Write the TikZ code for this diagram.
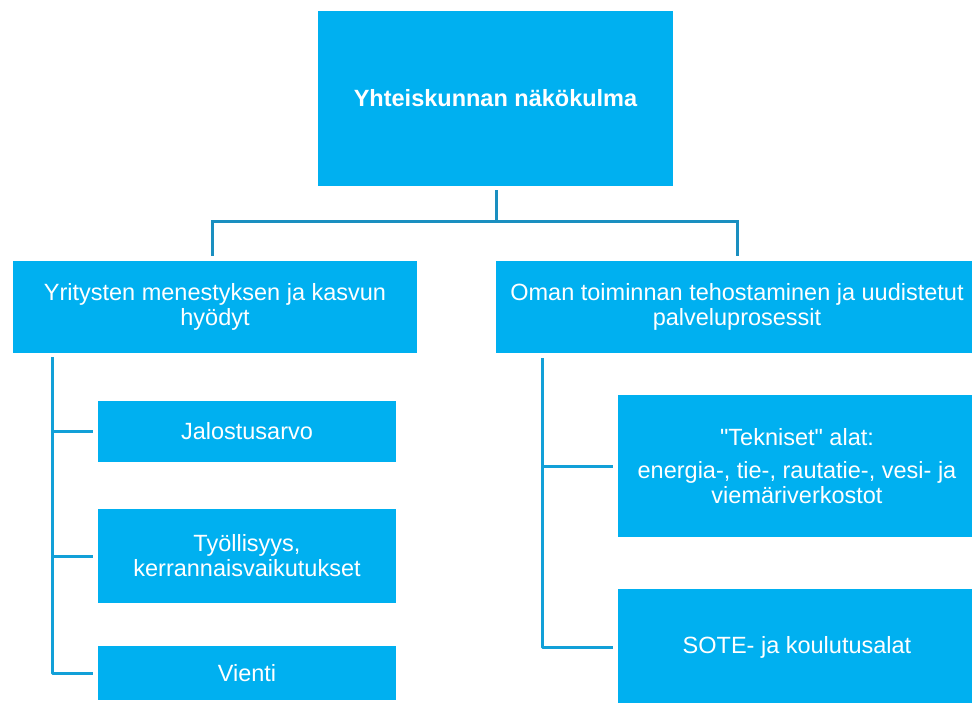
\documentclass[tikz,border=0pt]{standalone}
\usepackage{fontspec}
\setmainfont{Liberation Sans}
\definecolor{boxfill}{HTML}{00B0F0}
\definecolor{topline}{HTML}{1A8FC0}
\definecolor{trunkline}{HTML}{12A0D8}
\begin{document}
\begin{tikzpicture}[x=1pt,y=-1pt,
  box/.style={rectangle, fill=boxfill, draw=none, text=white, inner sep=0pt, align=center,
    font=\fontsize{23.5}{25}\selectfont},
  topconn/.style={draw=topline, line width=3pt},
  trunkconn/.style={draw=trunkline, line width=3pt, line join=round}]
\clip (0,0) rectangle (972,702);
\fill[white] (0,0) rectangle (972,702);
% boxes
\node[box, minimum width=355pt, minimum height=175pt, font=\fontsize{23.5}{25}\selectfont\bfseries] (top) at (495.5,98.5) {Yhteiskunnan näkökulma};
\node[box, minimum width=404pt, minimum height=92pt] (L) at (215,307) {Yritysten menestyksen ja kasvun\\hyödyt};
\node[box, minimum width=482pt, minimum height=92pt] (R) at (737,307) {Oman toiminnan tehostaminen ja uudistetut\\palveluprosessit};
\node[box, minimum width=298pt, minimum height=61pt] (J) at (247,431.5) {Jalostusarvo};
\node[box, minimum width=298pt, minimum height=94pt] (T) at (247,556) {Työllisyys,\\kerrannaisvaikutukset};
\node[box, minimum width=298pt, minimum height=54pt] (V) at (247,673) {Vienti};
\node[box, minimum width=358pt, minimum height=142pt] (Tk) at (797,466) {\textquotedbl Tekniset\textquotedbl{} alat:\\[8pt]energia-, tie-, rautatie-, vesi- ja\\viemäriverkostot};
\node[box, minimum width=358pt, minimum height=116pt] (S) at (797,647) {SOTE- ja koulutusalat};
% top connectors
\coordinate (hub) at (496,221);
\draw[topconn] ([yshift=-4pt]top.south -| hub) -- (hub);
\draw[topconn] ([xshift=-3pt,yshift=5pt]L.north) |- (hub -| R.north) -- ([yshift=5pt]R.north);
% left trunk
\coordinate (lt) at (52,357);
\draw[trunkconn] (lt) |- ([xshift=-5pt]V.west);
\draw[trunkconn] (lt |- J.west) -- ([xshift=-5pt]J.west);
\draw[trunkconn] (lt |- T.west) -- ([xshift=-5pt]T.west);
% right trunk
\coordinate (rt) at (542,358);
\draw[trunkconn] (rt) |- ([xshift=-5pt]S.west);
\draw[trunkconn] (rt |- Tk.west) -- ([xshift=-5pt]Tk.west);
\end{tikzpicture}
\end{document}
